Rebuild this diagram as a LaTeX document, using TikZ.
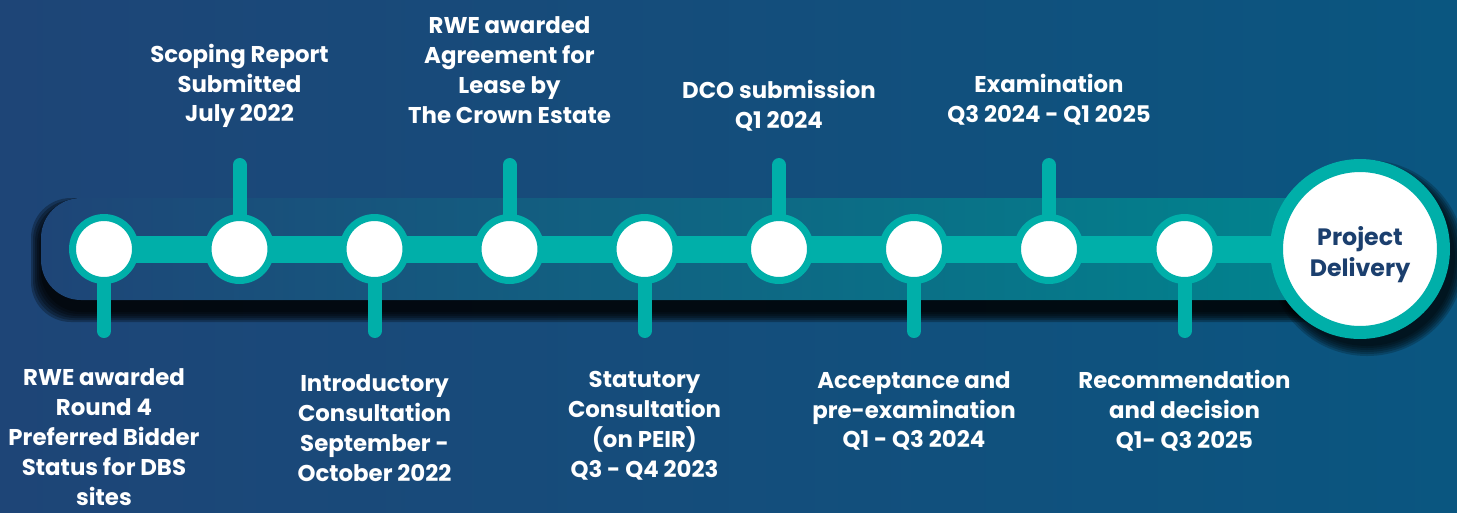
\documentclass[tikz,border=0pt]{standalone}
\usepackage{fontspec}
\setmainfont{Poppins}
\usetikzlibrary{positioning}
\definecolor{bgleft}{HTML}{1E4577}
\definecolor{bgright}{HTML}{0A5680}
\definecolor{bandmid}{HTML}{04557F}
\definecolor{bandright}{HTML}{00868F}
\definecolor{rwteal}{HTML}{00AFA9}
\definecolor{navy}{HTML}{1B3F6E}
\pgfdeclarelayer{back}
\pgfdeclarelayer{lines}
\pgfsetlayers{back,lines,main}
\tikzset{
  milestone/.style={circle,fill=white,draw=rwteal,line width=0.14cm,minimum size=1.26cm,inner sep=0pt},
  goal/.style={circle,fill=white,draw=rwteal,line width=0.26cm,minimum size=3.34cm,inner sep=0pt},
  goaltext/.style={text=navy,align=center,inner sep=0pt,font=\bfseries\fontsize{13.5}{17.5}\selectfont},
  track/.style={rwteal,line width=0.54cm},
  stem/.style={rwteal,line width=0.28cm,line cap=round},
  mtext/.style={text=white,align=center,inner sep=0pt,font=\bfseries\fontsize{13}{17}\selectfont},
}
\begin{document}
\begin{tikzpicture}[x=0.02cm,y=-0.02cm]
\useasboundingbox (0,0) rectangle (1457,512);
\begin{pgfonlayer}{back}
\fill[left color=bgleft,right color=bgright] (0,0) rectangle (1457,512);
\foreach \k in {0,...,5}
  \fill[black,opacity=0.27,rounded corners=0.8cm] (41-2*\k,208-2*\k) rectangle (1340+2*\k,312+2*\k);
\foreach \k in {0,...,5}
  \fill[black,opacity=0.2] (1367,258) circle (88+2*\k);
\fill[left color=bgleft,middle color=bandmid,right color=bandright,rounded corners=0.8cm] (41,198) rectangle (1360,300);
\end{pgfonlayer}
\node[milestone] (m1) at (104,249) {};
\node[milestone] (m2) at (239.5,249) {};
\node[milestone] (m3) at (374.5,249) {};
\node[milestone] (m4) at (509.5,249) {};
\node[milestone] (m5) at (644.5,249) {};
\node[milestone] (m6) at (779,249) {};
\node[milestone] (m7) at (914,249) {};
\node[milestone] (m8) at (1049,249) {};
\node[milestone] (m9) at (1184.5,249) {};
\node[goal] (pd) at (1360,249) {};
\node[goaltext] (pdtext) at (1360,255) {Project\\Delivery};
\coordinate (b1) at (104,331);
\coordinate (t2) at (239.5,165);
\coordinate (b3) at (374.5,331);
\coordinate (t4) at (509.5,165);
\coordinate (b5) at (644.5,331);
\coordinate (t6) at (779,165);
\coordinate (b7) at (914,331);
\coordinate (t8) at (1049,165);
\coordinate (b9) at (1184.5,331);
\begin{pgfonlayer}{lines}
\draw[track] (m1.center) -- (pd.center);
\draw[stem] (m1.center) -- (b1);
\draw[stem] (m2.center) -- (t2);
\draw[stem] (m3.center) -- (b3);
\draw[stem] (m4.center) -- (t4);
\draw[stem] (m5.center) -- (b5);
\draw[stem] (m6.center) -- (t6);
\draw[stem] (m7.center) -- (b7);
\draw[stem] (m8.center) -- (t8);
\draw[stem] (m9.center) -- (b9);
\end{pgfonlayer}
\node[mtext] (l1) at (104,437) {RWE awarded\\Round 4\\Preferred Bidder\\Status for DBS\\sites};
\node[mtext] (l2) at (239.5,86) {Scoping Report\\Submitted\\July 2022};
\node[mtext] (l3) at (374.5,428) {Introductory\\Consultation\\September -\\October 2022};
\node[mtext] (l4) at (509.5,70) {RWE awarded\\Agreement for\\Lease by\\The Crown Estate};
\node[mtext] (l5) at (644.5,426) {Statutory\\Consultation\\(on PEIR)\\Q3 - Q4 2023};
\node[mtext] (l6) at (779,106) {DCO submission\\Q1 2024};
\node[mtext] (l7) at (914,411) {Acceptance and\\pre-examination\\Q1 - Q3 2024};
\node[mtext] (l8) at (1049,100) {Examination\\Q3 2024 - Q1 2025};
\node[mtext] (l9) at (1184.5,411) {Recommendation\\and decision\\Q1- Q3 2025};
\end{tikzpicture}
\end{document}
